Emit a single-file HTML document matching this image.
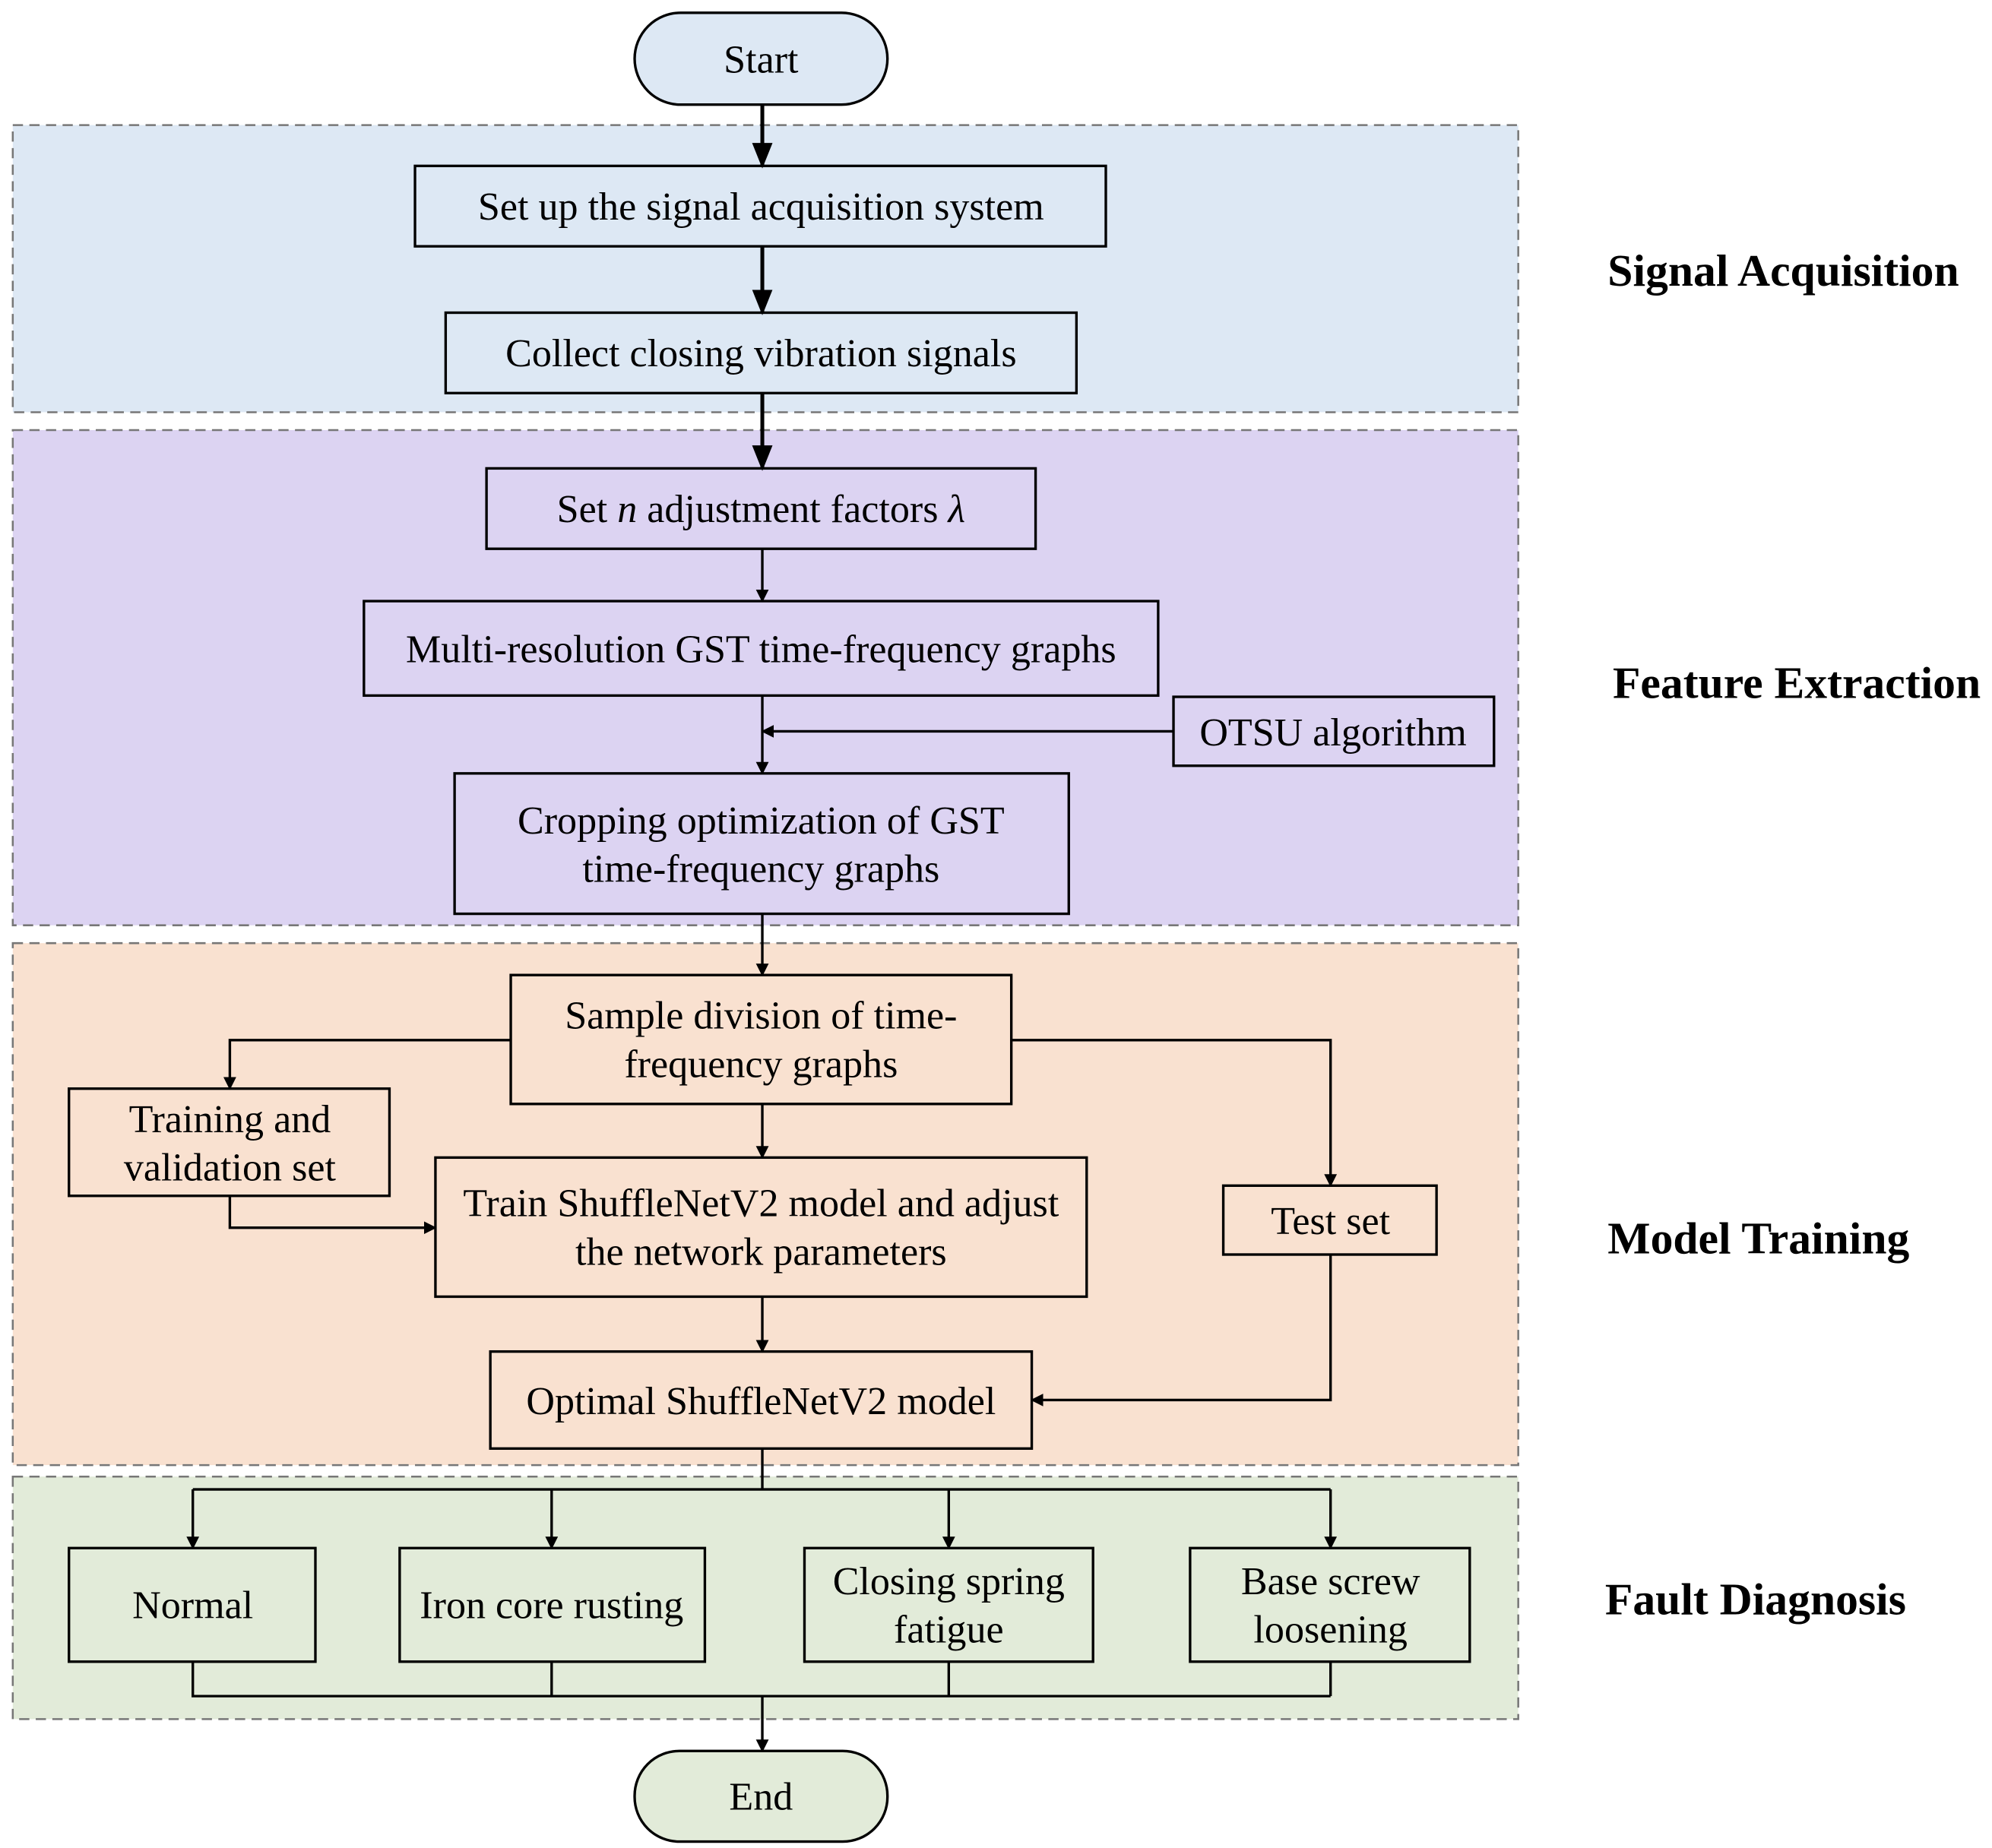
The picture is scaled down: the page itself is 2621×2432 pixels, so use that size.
<!DOCTYPE html>
<html><head><meta charset="utf-8"><style>
html,body{margin:0;padding:0;background:#fff;}
svg{display:block;}
text{font-family:"Liberation Serif",serif;}
</style></head><body>
<svg width="2621" height="2432" viewBox="0 0 1560 1448" preserveAspectRatio="none" xmlns="http://www.w3.org/2000/svg">
<defs>
<marker id="a" markerWidth="10" markerHeight="10" refX="9" refY="5" orient="auto" markerUnits="userSpaceOnUse" viewBox="0 0 10 10"><path d="M0,0 L10,5 L0,10 z" fill="#000"/></marker>
<marker id="b" markerWidth="20" markerHeight="20" refX="18" refY="10" orient="auto" markerUnits="userSpaceOnUse" viewBox="0 0 20 20"><path d="M0,2 L20,10 L0,18 z" fill="#000"/></marker>
</defs>
<g stroke="#777" stroke-width="1.5" stroke-dasharray="8,5">
<rect x="10" y="98" width="1179" height="225" fill="#dde8f4"/>
<rect x="10" y="337" width="1179" height="388" fill="#dcd3f2"/>
<rect x="10" y="739" width="1179" height="409" fill="#f9e1d0"/>
<rect x="10" y="1157" width="1179" height="190" fill="#e2ebd9"/>
</g>
<g stroke="#000" stroke-width="2" fill="none">
<rect x="497" y="10" width="198" height="72" rx="36" fill="#dde8f4"/>
<rect x="497" y="1372" width="198" height="71" rx="35" fill="#e2ebd9"/>
<rect x="325" y="130" width="541" height="63"/>
<rect x="349" y="245" width="494" height="63"/>
<rect x="381" y="367" width="430" height="63"/>
<rect x="285" y="471" width="622" height="74"/>
<rect x="919" y="546" width="251" height="54"/>
<rect x="356" y="606" width="481" height="110"/>
<rect x="400" y="764" width="392" height="101"/>
<rect x="54" y="853" width="251" height="84"/>
<rect x="341" y="907" width="510" height="109"/>
<rect x="958" y="929" width="167" height="54"/>
<rect x="384" y="1059" width="424" height="76"/>
<rect x="54" y="1213" width="193" height="89"/>
<rect x="313" y="1213" width="239" height="89"/>
<rect x="630" y="1213" width="226" height="89"/>
<rect x="932" y="1213" width="219" height="89"/>
</g>
<g stroke="#000" stroke-width="3" fill="none" marker-end="url(#b)">
<path d="M597,82 V130"/>
<path d="M597,193 V245"/>
<path d="M597,308 V367"/>
</g>
<g stroke="#000" stroke-width="2" fill="none" marker-end="url(#a)">
<path d="M597,430 V471"/>
<path d="M597,545 V606"/>
<path d="M919,573 H597"/>
<path d="M597,716 V764"/>
<path d="M400,815 H180 V853"/>
<path d="M792,815 H1042 V929"/>
<path d="M597,865 V907"/>
<path d="M180,937 V962 H341"/>
<path d="M597,1016 V1059"/>
<path d="M1042,983 V1097 H808"/>
<path d="M151,1167 V1213"/>
<path d="M432,1167 V1213"/>
<path d="M743,1167 V1213"/>
<path d="M1042,1167 V1213"/>
<path d="M597,1329 V1372"/>
</g>
<g stroke="#000" stroke-width="2" fill="none">
<path d="M597,1135 V1167 M151,1167 H1042"/>
<path d="M151,1302 V1329 H1042 M432,1302 V1329 M743,1302 V1329 M1042,1302 V1329"/>
</g>
<g font-size="31" text-anchor="middle" fill="#000">
<text x="596" y="57">Start</text>
<text x="596" y="1418">End</text>
<text x="596" y="172">Set up the signal acquisition system</text>
<text x="596" y="287">Collect closing vibration signals</text>
<text x="596" y="409">Set <tspan font-style="italic">n</tspan> adjustment factors <tspan font-style="italic">λ</tspan></text>
<text x="596" y="519">Multi-resolution GST time-frequency graphs</text>
<text x="1044" y="584">OTSU algorithm</text>
<text x="596" y="653">Cropping optimization of GST</text>
<text x="596" y="691">time-frequency graphs</text>
<text x="596" y="806">Sample division of time-</text>
<text x="596" y="844">frequency graphs</text>
<text x="180" y="887">Training and</text>
<text x="180" y="925">validation set</text>
<text x="596" y="953">Train ShuffleNetV2 model and adjust</text>
<text x="596" y="991">the network parameters</text>
<text x="1042" y="967">Test set</text>
<text x="596" y="1108">Optimal ShuffleNetV2 model</text>
<text x="151" y="1268">Normal</text>
<text x="432" y="1268">Iron core rusting</text>
<text x="743" y="1249">Closing spring</text>
<text x="743" y="1287">fatigue</text>
<text x="1042" y="1249">Base screw</text>
<text x="1042" y="1287">loosening</text>
</g>
<g font-size="35.5" font-weight="bold" fill="#000">
<text x="1259" y="224">Signal Acquisition</text>
<text x="1263" y="547">Feature Extraction</text>
<text x="1259" y="982">Model Training</text>
<text x="1257" y="1265">Fault Diagnosis</text>
</g>
</svg>
</body></html>
